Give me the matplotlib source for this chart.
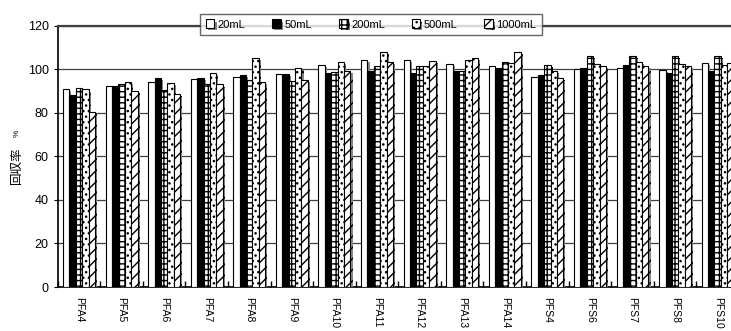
import numpy as np
import matplotlib
matplotlib.use("Agg")
import matplotlib.pyplot as plt
import matplotlib.patheffects as pe

plt.rcParams['font.family'] = ['Liberation Sans', 'Noto Sans CJK JP', 'DejaVu Sans']
plt.rcParams['hatch.linewidth'] = 1.0

# Data
categories = ["PFA4", "PFA5", "PFA6", "PFA7", "PFA8", "PFA9", "PFA10", "PFA11",
              "PFA12", "PFA13", "PFA14", "PFS4", "PFS6", "PFS7", "PFS8", "PFS10"]
series_names = ["20mL", "50mL", "200mL", "500mL", "1000mL"]
v_20 = [91.1, 92.2, 94.2, 95.4, 96.5, 97.7, 101.8, 104.1, 104.1, 102.6, 101.4, 96.5, 100.3, 100.6, 99.5, 102.9]
v_50 = [88.1, 92.2, 96.0, 96.0, 97.2, 97.7, 98.5, 99.2, 98.3, 99.4, 100.6, 97.2, 100.6, 102.1, 98.5, 99.2]
v_200 = [91.6, 93.1, 90.4, 93.0, 95.0, 94.5, 98.9, 101.7, 101.4, 99.1, 103.2, 101.8, 106.0, 106.0, 106.0, 106.0]
v_500 = [90.7, 94.2, 93.6, 98.2, 105.2, 100.5, 103.4, 107.9, 101.4, 104.1, 102.9, 99.2, 102.6, 103.4, 102.3, 101.8]
v_1000 = [80.4, 90.0, 88.8, 93.0, 94.2, 95.0, 99.2, 103.4, 103.7, 105.2, 107.9, 96.0, 101.4, 101.4, 101.4, 102.9]
yticks = [0, 20, 40, 60, 80, 100, 120]

all_series = [v_20, v_50, v_200, v_500, v_1000]
faces = ["white", "black", "white", "white", "white"]
hatches = [None, None, "+++", "...", "///"]

fig = plt.figure(figsize=(7.31, 3.31), dpi=100)
ax = fig.add_axes([0.0789, 0.1329, 0.932, 0.7895])

x = np.arange(len(categories))
width = 0.15
shadow = [pe.SimplePatchShadow(offset=(1.5, -1.5), shadow_rgbFace="#888888", alpha=1.0), pe.Normal()]

handles = []
for i, vals in enumerate(all_series):
    bars = ax.bar(x + (i - 2) * width, vals, width, color=faces[i], edgecolor="black",
                  linewidth=0.8, hatch=hatches[i], zorder=3, label=series_names[i])
    for b in bars:
        b.set_path_effects(shadow)
    handles.append(bars)

# Axes styling
ax.set_xlim(-0.5, len(categories) - 0.5)
ax.set_ylim(0, 120)
ax.set_yticks(yticks)
ax.yaxis.grid(True, color="#404040", linewidth=0.9, zorder=0)
ax.set_axisbelow(True)
ax.spines["right"].set_visible(False)
ax.spines["top"].set_color("#404040")
ax.spines["top"].set_linewidth(1.6)
ax.spines["left"].set_linewidth(1.2)
ax.spines["bottom"].set_linewidth(1.2)

ax.set_xticks(x)
ax.set_xticklabels(categories, rotation=270, fontsize=7.5)
ax.tick_params(axis="x", length=0, pad=7)
ax.set_xticks(np.arange(len(categories) + 1) - 0.5, minor=True)
ax.tick_params(axis="x", which="minor", direction="in", length=4, width=1)
ax.tick_params(axis="y", labelsize=9, length=3, direction="out")

# y label: large kanji with a small percent sign above it
ax.text(-0.06, 0.467, "回収率", transform=ax.transAxes, rotation=90,
        ha="center", va="center", fontsize=9)
ax.text(-0.06, 0.59, "%", transform=ax.transAxes, rotation=90,
        ha="center", va="center", fontsize=6)

# Legend on top
fig.legend(handles=handles, labels=series_names, loc="center",
           bbox_to_anchor=(0.5075, 0.926), bbox_transform=fig.transFigure,
           ncol=5, fontsize=8, frameon=True, fancybox=False,
           edgecolor="#404040", handlelength=0.8, handleheight=0.8,
           handletextpad=0.3, columnspacing=2.4, borderpad=0.5)

fig.savefig("out.png", dpi=100)
